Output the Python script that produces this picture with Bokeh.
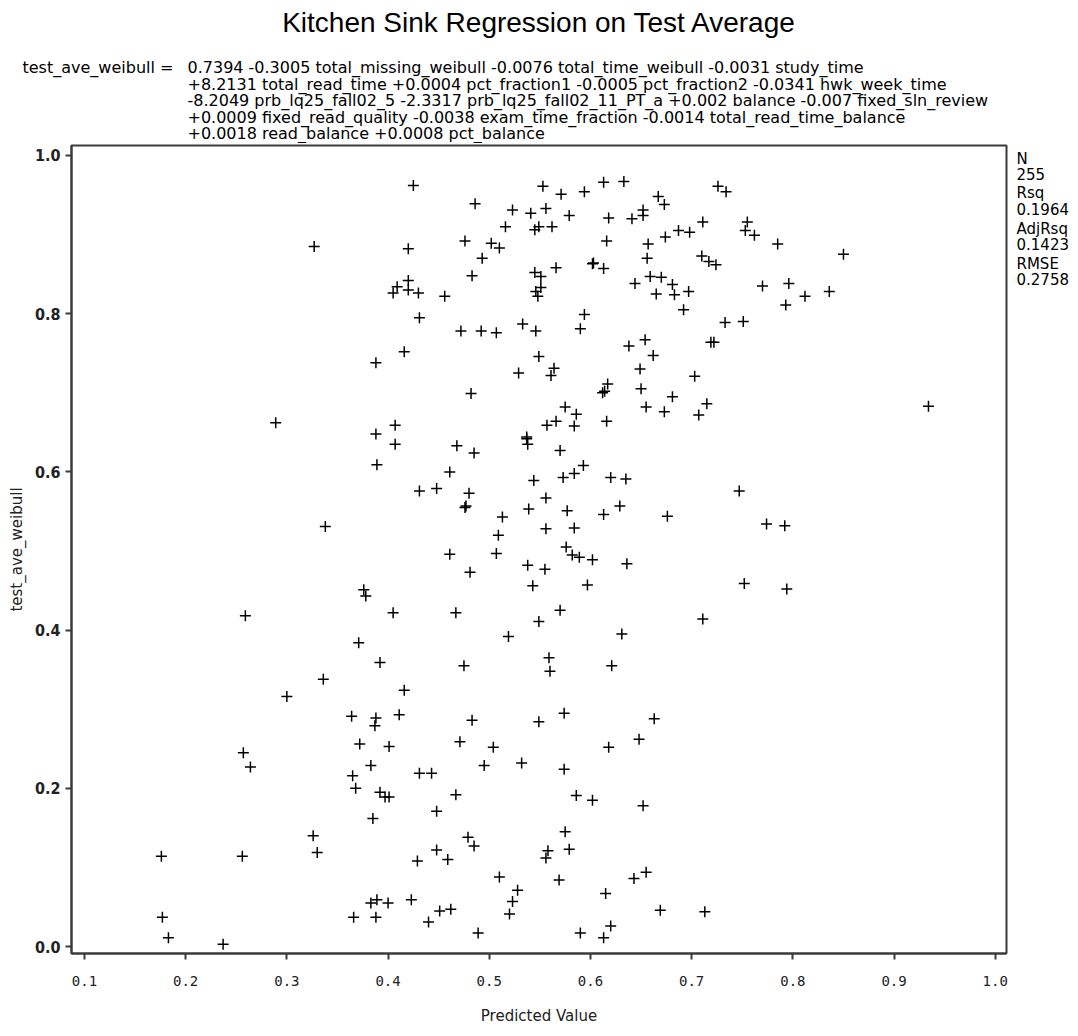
from bokeh.plotting import figure
from bokeh.models import Range1d, FixedTicker, PrintfTickFormatter, ColumnDataSource
from bokeh.layouts import column, row
from bokeh.core.properties import value
from bokeh.embed import file_html
from bokeh.resources import INLINE

# ---- data ----
predicted = [
    0.425, 0.486, 0.523, 0.541, 0.556, 0.553, 0.571, 0.579, 0.516, 0.545, 0.549, 0.562,
    0.327, 0.420, 0.476, 0.502, 0.510, 0.493, 0.483, 0.545, 0.551, 0.566, 0.420, 0.409,
    0.405, 0.420, 0.430, 0.456, 0.546, 0.551, 0.548, 0.431, 0.472, 0.492, 0.507, 0.533,
    0.546, 0.416, 0.388, 0.549, 0.529, 0.564, 0.561, 0.482, 0.575, 0.289, 0.407, 0.557,
    0.566,
    0.594, 0.613, 0.633, 0.618, 0.641, 0.652, 0.652, 0.667, 0.673, 0.726, 0.734, 0.711,
    0.755, 0.753, 0.762, 0.785, 0.850, 0.616, 0.657, 0.674, 0.687, 0.698, 0.656, 0.602,
    0.603, 0.613, 0.710, 0.717, 0.724, 0.659, 0.670, 0.644, 0.681, 0.665, 0.683, 0.697,
    0.692, 0.770, 0.796, 0.812, 0.836, 0.793, 0.594, 0.590, 0.733, 0.751, 0.654, 0.638,
    0.662, 0.719, 0.722, 0.649, 0.703, 0.617, 0.612, 0.614, 0.650, 0.681, 0.934, 0.586,
    0.655, 0.673, 0.715, 0.707, 0.616, 0.584,
    0.388, 0.407, 0.389, 0.468, 0.485, 0.537, 0.537, 0.538, 0.570, 0.461, 0.431, 0.448,
    0.480, 0.476, 0.477, 0.544, 0.573, 0.556, 0.539, 0.577, 0.338, 0.513, 0.509, 0.556,
    0.461, 0.507, 0.576, 0.538, 0.555, 0.481, 0.543, 0.376, 0.378, 0.259, 0.405, 0.467,
    0.570, 0.549, 0.519, 0.371, 0.392, 0.475, 0.559, 0.560, 0.336, 0.300, 0.416,
    0.593, 0.584, 0.620, 0.635, 0.747, 0.613, 0.629, 0.676, 0.774, 0.792, 0.584, 0.582,
    0.589, 0.602, 0.636, 0.597, 0.752, 0.794, 0.711, 0.631, 0.621,
    0.364, 0.388, 0.387, 0.411, 0.483, 0.549, 0.574, 0.372, 0.401, 0.471, 0.504, 0.257,
    0.264, 0.383, 0.495, 0.532, 0.574, 0.365, 0.368, 0.392, 0.397, 0.401, 0.431, 0.443,
    0.467, 0.448, 0.385, 0.326, 0.330, 0.176, 0.256, 0.575, 0.479, 0.485, 0.448, 0.459,
    0.429, 0.558, 0.556, 0.579, 0.510, 0.569, 0.528, 0.523, 0.520, 0.383, 0.389, 0.400,
    0.423, 0.366, 0.388, 0.451, 0.462, 0.440, 0.489, 0.177, 0.183, 0.237,
    0.663, 0.648, 0.618, 0.586, 0.602, 0.652, 0.643, 0.655, 0.615, 0.669, 0.713, 0.590,
    0.613, 0.620,
]
observed = [
    0.962, 0.939, 0.931, 0.927, 0.933, 0.961, 0.951, 0.924, 0.910, 0.906, 0.910, 0.910,
    0.885, 0.882, 0.892, 0.889, 0.883, 0.870, 0.848, 0.852, 0.847, 0.858, 0.842, 0.834,
    0.826, 0.830, 0.826, 0.822, 0.828, 0.833, 0.822, 0.795, 0.778, 0.778, 0.776, 0.787,
    0.778, 0.752, 0.738, 0.746, 0.725, 0.731, 0.722, 0.699, 0.682, 0.662, 0.659, 0.659,
    0.664,
    0.954, 0.966, 0.967, 0.921, 0.920, 0.931, 0.924, 0.948, 0.938, 0.961, 0.954, 0.916,
    0.916, 0.905, 0.899, 0.888, 0.875, 0.892, 0.888, 0.897, 0.905, 0.903, 0.870, 0.863,
    0.864, 0.857, 0.873, 0.866, 0.862, 0.847, 0.846, 0.838, 0.837, 0.825, 0.824, 0.828,
    0.805, 0.835, 0.838, 0.822, 0.828, 0.811, 0.799, 0.781, 0.789, 0.790, 0.767, 0.759,
    0.747, 0.764, 0.764, 0.730, 0.721, 0.711, 0.700, 0.702, 0.705, 0.695, 0.683, 0.673,
    0.682, 0.676, 0.686, 0.672, 0.664, 0.658,
    0.648, 0.635, 0.609, 0.633, 0.624, 0.644, 0.642, 0.635, 0.627, 0.600, 0.576, 0.579,
    0.573, 0.555, 0.557, 0.589, 0.593, 0.567, 0.553, 0.551, 0.531, 0.543, 0.520, 0.528,
    0.496, 0.497, 0.505, 0.482, 0.477, 0.473, 0.456, 0.451, 0.443, 0.418, 0.422, 0.422,
    0.425, 0.411, 0.392, 0.384, 0.359, 0.355, 0.365, 0.348, 0.338, 0.316, 0.324,
    0.608, 0.598, 0.593, 0.591, 0.576, 0.546, 0.557, 0.544, 0.534, 0.532, 0.529, 0.495,
    0.492, 0.489, 0.484, 0.457, 0.459, 0.452, 0.414, 0.395, 0.355,
    0.291, 0.289, 0.279, 0.293, 0.286, 0.284, 0.295, 0.256, 0.253, 0.259, 0.252, 0.245,
    0.227, 0.229, 0.229, 0.232, 0.224, 0.216, 0.200, 0.195, 0.189, 0.189, 0.219, 0.219,
    0.192, 0.171, 0.162, 0.140, 0.119, 0.114, 0.114, 0.145, 0.138, 0.127, 0.122, 0.110,
    0.108, 0.121, 0.112, 0.123, 0.088, 0.084, 0.071, 0.057, 0.041, 0.055, 0.059, 0.055,
    0.059, 0.037, 0.037, 0.045, 0.047, 0.031, 0.017, 0.037, 0.011, 0.003,
    0.288, 0.262, 0.252, 0.191, 0.185, 0.178, 0.086, 0.094, 0.067, 0.046, 0.044, 0.017,
    0.011, 0.026,
]

x_ticks = [0.1, 0.2, 0.3, 0.4, 0.5, 0.6, 0.7, 0.8, 0.9, 1.0]
y_ticks = [0.0, 0.2, 0.4, 0.6, 0.8, 1.0]

title_text = "Kitchen Sink Regression on Test Average"
equation_lhs = "test_ave_weibull ="
equation_lines = [
    "0.7394 -0.3005 total_missing_weibull -0.0076 total_time_weibull -0.0031 study_time",
    "+8.2131 total_read_time +0.0004 pct_fraction1 -0.0005 pct_fraction2 -0.0341 hwk_week_time",
    "-8.2049 prb_lq25_fall02_5 -2.3317 prb_lq25_fall02_11_PT_a +0.002 balance -0.007 fixed_sln_review",
    "+0.0009 fixed_read_quality -0.0038 exam_time_fraction -0.0014 total_read_time_balance",
    "+0.0018 read_balance +0.0008 pct_balance",
]
stats_lines = ["N", "255", "Rsq", "0.1964", "AdjRsq", "0.1423", "RMSE", "0.2758"]

# ---- layout constants (canvas pixels) ----
W, H = 1078, 1036
TOP_H = 143                # header strip height
FL, FR, FT, FB = 71, 1006, 145, 953  # plot frame edges on the page
MAIN_W = FR + 2
RIGHT_W = W - MAIN_W
BODY_H = H - TOP_H

SAS_FONT = "DejaVu Sans"
LINE_C = "#3a3a3a"


def blank_fig(w, h):
    f = figure(width=w, height=h, output_backend="svg", toolbar_location=None,
               x_range=Range1d(0, w), y_range=Range1d(h, 0),
               x_axis_type=None, y_axis_type=None,
               min_border=0, min_border_left=0, min_border_right=0,
               min_border_top=0, min_border_bottom=0)
    f.grid.visible = False
    f.outline_line_color = None
    f.background_fill_color = "white"
    f.border_fill_color = "white"
    return f


# ---- header: title + regression equation ----
top = blank_fig(W, TOP_H)
top.text(x=[539], y=[22], text=[title_text], text_font=value("Liberation Sans"),
         text_font_size="28px", text_align="center", text_baseline="middle",
         text_color="black")
top.text(x=[22], y=[67], text=[equation_lhs], text_font=value(SAS_FONT),
         text_font_size="16px", text_align="left", text_baseline="middle",
         text_color="black")
eq_y = [67, 84, 100, 117, 133]
top.text(x=[187] * len(equation_lines), y=eq_y, text=equation_lines,
         text_font=value(SAS_FONT), text_font_size="16px", text_align="left",
         text_baseline="middle", text_color="black")

# ---- main scatter ----
src = ColumnDataSource(dict(x=predicted, y=observed))
p = figure(width=MAIN_W, height=BODY_H, output_backend="svg", toolbar_location=None,
           x_range=Range1d(0.0872, 1.0111), y_range=Range1d(-0.0088, 1.0126),
           min_border_left=FL, min_border_right=MAIN_W - FR,
           min_border_top=FT - TOP_H, min_border_bottom=H - FB)
p.grid.visible = False
p.outline_line_color = LINE_C
p.outline_line_width = 2
p.background_fill_color = "white"
p.border_fill_color = "white"

p.scatter("x", "y", source=src, marker="cross", size=11, line_color="black",
          line_width=1.5)

for ax in (p.xaxis[0], p.yaxis[0]):
    ax.axis_line_color = LINE_C
    ax.axis_line_width = 2
    ax.major_tick_line_color = LINE_C
    ax.major_tick_line_width = 2
    ax.major_tick_in = 0
    ax.major_tick_out = 6
    ax.minor_tick_line_color = None
    ax.formatter = PrintfTickFormatter(format="%.1f")
    ax.major_label_text_color = "#222222"
    ax.axis_label_text_font = SAS_FONT
    ax.axis_label_text_font_style = "normal"
    ax.axis_label_text_font_size = "15px"
    ax.axis_label_text_color = "#222222"

p.xaxis[0].ticker = FixedTicker(ticks=x_ticks)
p.yaxis[0].ticker = FixedTicker(ticks=y_ticks)
p.xaxis[0].major_label_text_font = "DejaVu Sans Mono"
p.xaxis[0].major_label_text_font_size = "14px"
p.yaxis[0].major_label_text_font = "DejaVu Sans Condensed"
p.yaxis[0].major_label_text_font_style = "bold"
p.yaxis[0].major_label_text_font_size = "16px"
p.xaxis[0].axis_label = "Predicted Value"
p.yaxis[0].axis_label = "test_ave_weibull"
p.xaxis[0].major_label_standoff = 16
p.xaxis[0].axis_label_standoff = 18
p.yaxis[0].major_label_standoff = 5
p.yaxis[0].axis_label_standoff = 6

# ---- right strip: fit statistics ----
right = blank_fig(RIGHT_W, BODY_H)
st_y = [158, 175, 196, 213, 235, 252, 274, 291]
right.text(x=[1016 - MAIN_W] * len(stats_lines), y=[v - TOP_H for v in st_y],
           text=stats_lines, text_font=value(SAS_FONT), text_font_size="15px",
           text_align="left", text_baseline="middle", text_color="black")

layout = column(top, row(p, right, spacing=0), spacing=0)
open("out.html", "w").write(file_html(layout, INLINE))
